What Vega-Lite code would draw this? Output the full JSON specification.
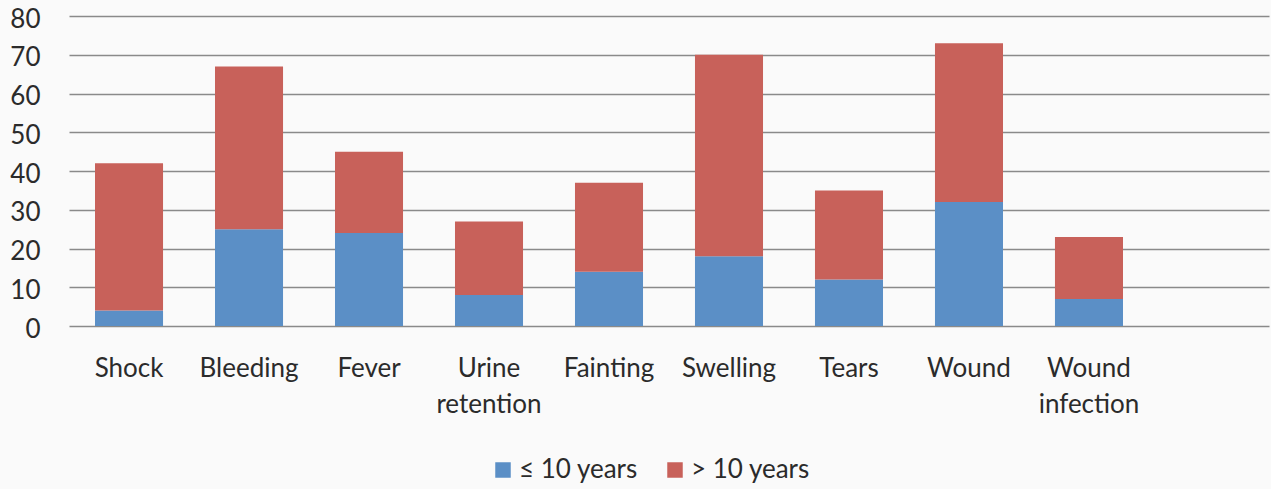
{
  "$schema": "https://vega.github.io/schema/vega-lite/v6.json",
  "width": 1200,
  "height": 310,
  "autosize": "none",
  "padding": {"left": 69, "top": 16, "right": 2, "bottom": 163},
  "background": "#fafafa",
  "config": {
    "view": {"stroke": null},
    "font": "Lato",
    "axis": {"labelFont": "Lato", "labelColor": "#2b2b2b", "labelFontSize": 26}
  },
  "data": {
    "values": [
      {"symptom": "Shock", "age": "≤ 10 years", "count": 4},
      {"symptom": "Shock", "age": "> 10 years", "count": 38},
      {"symptom": "Bleeding", "age": "≤ 10 years", "count": 25},
      {"symptom": "Bleeding", "age": "> 10 years", "count": 42},
      {"symptom": "Fever", "age": "≤ 10 years", "count": 24},
      {"symptom": "Fever", "age": "> 10 years", "count": 21},
      {"symptom": "Urine retention", "age": "≤ 10 years", "count": 8},
      {"symptom": "Urine retention", "age": "> 10 years", "count": 19},
      {"symptom": "Fainting", "age": "≤ 10 years", "count": 14},
      {"symptom": "Fainting", "age": "> 10 years", "count": 23},
      {"symptom": "Swelling", "age": "≤ 10 years", "count": 18},
      {"symptom": "Swelling", "age": "> 10 years", "count": 52},
      {"symptom": "Tears", "age": "≤ 10 years", "count": 12},
      {"symptom": "Tears", "age": "> 10 years", "count": 23},
      {"symptom": "Wound", "age": "≤ 10 years", "count": 32},
      {"symptom": "Wound", "age": "> 10 years", "count": 41},
      {"symptom": "Wound infection", "age": "≤ 10 years", "count": 7},
      {"symptom": "Wound infection", "age": "> 10 years", "count": 16}
    ]
  },
  "mark": {"type": "bar"},
  "encoding": {
    "x": {
      "field": "symptom",
      "type": "nominal",
      "scale": {
        "domain": ["Shock", "Bleeding", "Fever", "Urine retention", "Fainting", "Swelling", "Tears", "Wound", "Wound infection", " "],
        "paddingInner": 0.433,
        "paddingOuter": 0.2167
      },
      "axis": {
        "title": null,
        "labelAngle": 0,
        "domain": false,
        "ticks": false,
        "labelPadding": 29,
        "labelLineHeight": 36,
        "labelLimit": 0,
        "labelExpr": "split(datum.label, ' ')"
      }
    },
    "y": {
      "field": "count",
      "type": "quantitative",
      "stack": "zero",
      "scale": {"domain": [0, 80], "nice": false},
      "axis": {
        "title": null,
        "values": [0, 10, 20, 30, 40, 50, 60, 70, 80],
        "domain": false,
        "ticks": false,
        "labelPadding": 29,
        "labelOffset": 3,
        "gridColor": "#8a8a8a",
        "gridWidth": 1.5,
        "gridOpacity": 1
      }
    },
    "color": {
      "field": "age",
      "type": "nominal",
      "sort": ["≤ 10 years", "> 10 years"],
      "scale": {"domain": ["≤ 10 years", "> 10 years"], "range": ["#5b8fc6", "#c8615a"]},
      "legend": {
        "title": null,
        "orient": "none",
        "direction": "horizontal",
        "legendX": 421,
        "legendY": 441,
        "symbolType": "square",
        "symbolSize": 240,
        "symbolStrokeWidth": 0,
        "labelFont": "Lato",
        "labelFontSize": 26,
        "labelColor": "#2b2b2b",
        "labelOffset": 3,
        "columnPadding": 24,
        "labelLimit": 0
      }
    },
    "order": {"field": "age", "sort": "descending"}
  }
}
